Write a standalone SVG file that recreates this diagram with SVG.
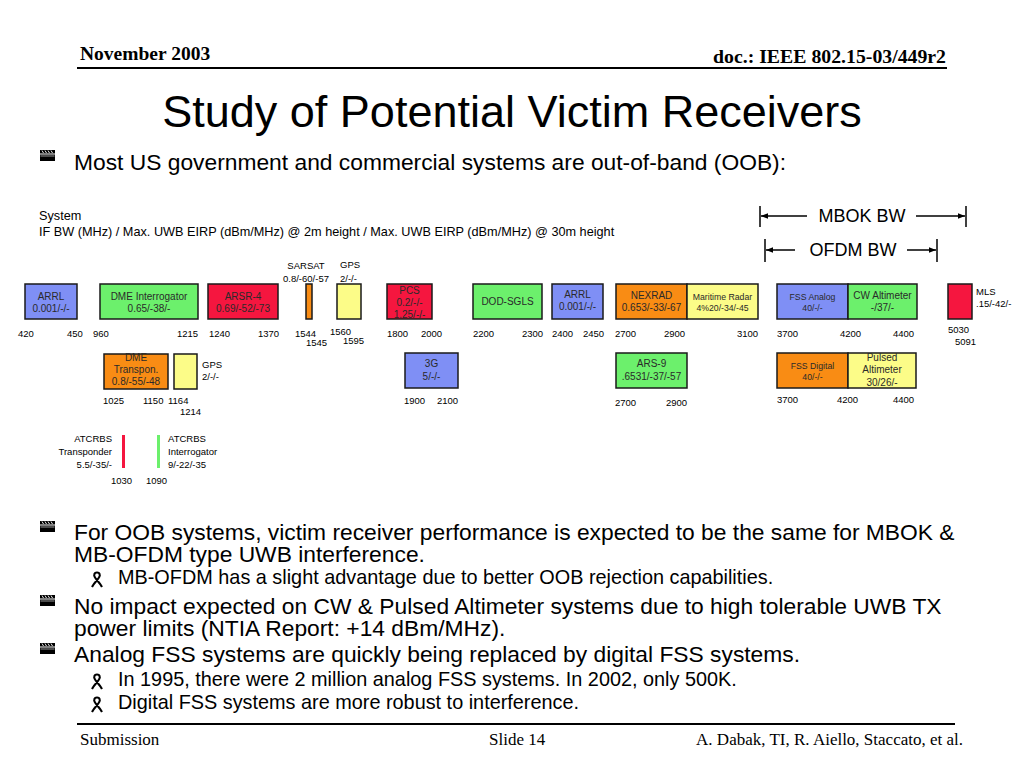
<svg xmlns="http://www.w3.org/2000/svg" width="1024" height="768" viewBox="0 0 1024 768">
<defs>
<style>
.hdr{font-family:"Liberation Serif","Times New Roman",serif;font-weight:bold;fill:#000}
.ftr{font-family:"Liberation Serif","Times New Roman",serif;font-size:17px;fill:#000}
.sans{font-family:"Liberation Sans",Arial,sans-serif;fill:#000}
.title{font-size:45px}
.b1{font-size:22.8px}
.b2{font-size:19.85px}
.sm{font-size:12.7px}
.bx{font-size:10px;fill:#2a2a2a;text-anchor:middle}
.bxs{font-size:8.7px;fill:#2a2a2a;text-anchor:middle}
.num{font-size:9.5px}
.lbl{font-size:9.5px}
.bw{font-size:18px}
.box{stroke:#1a1a1a;stroke-width:1.5}
.blue{fill:#7f8ff5}
.green{fill:#6cf06c}
.red{fill:#f5163f}
.orange{fill:#f98c14}
.yellow{fill:#fcfc88}
.conn{stroke:#000;stroke-width:1.5;fill:none}
</style>
<marker id="ah" viewBox="0 0 10 10" refX="10" refY="5" markerWidth="7" markerHeight="7" orient="auto-start-reverse" markerUnits="userSpaceOnUse">
<path d="M0,1 L10,5 L0,9 z" fill="#000"/>
</marker>
<g id="clap">
<rect x="0" y="0" width="15" height="3.5" fill="#000"/>
<path d="M2,0.5 L3.5,3 M5,0.5 L6.5,3 M8,0.5 L9.5,3 M11,0.5 L12.5,3" stroke="#fff" stroke-width="0.9"/>
<rect x="0" y="4.5" width="15" height="6.5" fill="#000"/>
<line x1="0.5" y1="6" x2="14.5" y2="6" stroke="#fff" stroke-width="0.6"/>
</g>
<path id="ribbon" d="M0,15 C3,9 8.5,6 7.8,2.8 C7.2,-0.3 2.8,-0.3 2.2,2.8 C1.5,6 7,9 10,15" stroke="#000" stroke-width="2.1" fill="none"/>
</defs>
<rect width="1024" height="768" fill="#fff"/>

<g id="header">
<text class="hdr" x="80" y="60" font-size="19.5">November 2003</text>
<text class="hdr" x="946" y="63" font-size="19.8" text-anchor="end">doc.: IEEE 802.15-03/449r2</text>
<line x1="77" y1="68" x2="947" y2="68" stroke="#000" stroke-width="2"/>
</g>

<text class="sans title" x="512" y="127" text-anchor="middle">Study of Potential Victim Receivers</text>

<g id="bullet1">
<use href="#clap" x="40" y="150"/>
<text class="sans b1" x="74" y="170">Most US government and commercial systems are out-of-band (OOB):</text>
</g>

<g id="legend">
<text class="sans sm" x="39" y="220">System</text>
<text class="sans sm" x="39" y="236">IF BW (MHz) / Max. UWB EIRP (dBm/MHz) @ 2m height / Max. UWB EIRP (dBm/MHz) @ 30m height</text>
</g>

<g id="connectors">
<line class="conn" x1="760" y1="206" x2="760" y2="227"/>
<line class="conn" x1="807" y1="216" x2="761" y2="216" marker-end="url(#ah)"/>
<line class="conn" x1="916" y1="216" x2="965" y2="216" marker-end="url(#ah)"/>
<line class="conn" x1="966" y1="206" x2="966" y2="227"/>
<line class="conn" x1="765" y1="239" x2="765" y2="262"/>
<line class="conn" x1="795" y1="250" x2="766" y2="250" marker-end="url(#ah)"/>
<line class="conn" x1="907" y1="250" x2="936" y2="250" marker-end="url(#ah)"/>
<line class="conn" x1="937" y1="239" x2="937" y2="262"/>
</g>
<g id="bw-labels">
<text class="sans bw" x="862" y="222" text-anchor="middle">MBOK BW</text>
<text class="sans bw" x="853" y="256" text-anchor="middle">OFDM BW</text>
</g>

<g id="arrl1"><rect class="box blue" x="25" y="284" width="52" height="35"/><text class="sans bx" x="51" y="300">ARRL</text><text class="sans bx" x="51" y="312">0.001/-/-</text></g>
<g id="dme-int"><rect class="box green" x="100" y="284" width="98" height="35"/><text class="sans bx" x="149" y="300">DME Interrogator</text><text class="sans bx" x="149" y="312">0.65/-38/-</text></g>
<g id="arsr4"><rect class="box red" x="208" y="284" width="70" height="35"/><text class="sans bx" x="243" y="300">ARSR-4</text><text class="sans bx" x="243" y="312">0.69/-52/-73</text></g>
<g id="sarsat"><rect class="box orange" x="306" y="284" width="6" height="35"/><text class="sans lbl" x="306" y="269" text-anchor="middle">SARSAT</text><text class="sans lbl" x="306" y="282" text-anchor="middle">0.8/-60/-57</text></g>
<g id="gps1"><rect class="box yellow" x="337" y="284" width="24" height="35"/><text class="sans lbl" x="340" y="268">GPS</text><text class="sans lbl" x="340" y="282">2/-/-</text></g>
<g id="pcs"><rect class="box red" x="387" y="284" width="45" height="35"/><text class="sans bx" x="409.5" y="294">PCS</text><text class="sans bx" x="409.5" y="306">0.2/-/-</text><text class="sans bx" x="409.5" y="318">1.25/-/-</text></g>
<g id="dod-sgls"><rect class="box green" x="473" y="284" width="69" height="35"/><text class="sans bx" x="507.5" y="305">DOD-SGLS</text></g>
<g id="arrl2"><rect class="box blue" x="552" y="284" width="51" height="35"/><text class="sans bx" x="577.5" y="298">ARRL</text><text class="sans bx" x="577.5" y="310">0.001/-/-</text></g>
<g id="nexrad"><rect class="box orange" x="616" y="284" width="71" height="35"/><text class="sans bx" x="651.5" y="299">NEXRAD</text><text class="sans bx" x="651.5" y="311">0.653/-33/-67</text></g>
<g id="maritime"><rect class="box yellow" x="687" y="284" width="71" height="35"/><text class="sans bxs" x="722.5" y="300">Maritime Radar</text><text class="sans bxs" x="722.5" y="311">4%20/-34/-45</text></g>
<g id="fss-analog"><rect class="box blue" x="777" y="284" width="71" height="35"/><text class="sans bxs" x="812.5" y="300">FSS Analog</text><text class="sans bxs" x="812.5" y="311">40/-/-</text></g>
<g id="cw-alt"><rect class="box green" x="848" y="284" width="69" height="35"/><text class="sans bx" x="882.5" y="299">CW Altimeter</text><text class="sans bx" x="882.5" y="311">-/37/-</text></g>
<g id="mls"><rect class="box red" x="948" y="284" width="24" height="35"/><text class="sans lbl" x="976" y="295">MLS</text><text class="sans lbl" x="976" y="307">.15/-42/-</text></g>

<g id="freq-row1" class="sans num">
<text x="18" y="337">420</text><text x="67" y="337">450</text><text x="93" y="337">960</text>
<text x="177" y="337">1215</text><text x="209" y="337">1240</text><text x="258" y="337">1370</text>
<text x="295" y="337">1544</text><text x="306" y="346">1545</text>
<text x="330" y="335">1560</text><text x="343" y="344">1595</text>
<text x="387" y="337">1800</text><text x="421" y="337">2000</text>
<text x="473" y="337">2200</text><text x="522" y="337">2300</text>
<text x="552" y="337">2400</text><text x="583" y="337">2450</text>
<text x="615" y="337">2700</text><text x="664" y="337">2900</text><text x="737" y="337">3100</text>
<text x="777" y="337">3700</text><text x="840" y="337">4200</text><text x="893" y="337">4400</text>
<text x="948" y="333">5030</text><text x="955" y="345">5091</text>
</g>

<g id="dme-trans"><rect class="box orange" x="104" y="354" width="64" height="35"/><text class="sans bx" x="136" y="361">DME</text><text class="sans bx" x="136" y="373">Transpon.</text><text class="sans bx" x="136" y="385">0.8/-55/-48</text></g>
<g id="gps2"><rect class="box yellow" x="174" y="354" width="23" height="35"/><text class="sans lbl" x="202" y="368">GPS</text><text class="sans lbl" x="202" y="380">2/-/-</text></g>
<g id="g3"><rect class="box blue" x="405" y="353" width="53" height="35"/><text class="sans bx" x="431.5" y="367">3G</text><text class="sans bx" x="431.5" y="380">5/-/-</text></g>
<g id="ars9"><rect class="box green" x="616" y="353" width="71" height="35"/><text class="sans bx" x="651.5" y="367">ARS-9</text><text class="sans bx" x="651.5" y="380">.6531/-37/-57</text></g>
<g id="fss-digital"><rect class="box orange" x="777" y="353" width="71" height="35"/><text class="sans bxs" x="812.5" y="369">FSS Digital</text><text class="sans bxs" x="812.5" y="380">40/-/-</text></g>
<g id="pulsed-alt"><rect class="box yellow" x="848" y="353" width="68" height="35"/><text class="sans bx" x="882" y="361">Pulsed</text><text class="sans bx" x="882" y="373">Altimeter</text><text class="sans bx" x="882" y="386">30/26/-</text></g>

<g id="freq-row2" class="sans num">
<text x="103" y="404">1025</text><text x="143" y="404">1150</text><text x="168" y="404">1164</text><text x="180" y="415">1214</text>
<text x="404" y="404">1900</text><text x="437" y="404">2100</text>
<text x="615" y="406">2700</text><text x="666" y="406">2900</text>
<text x="777" y="403">3700</text><text x="837" y="403">4200</text><text x="893" y="403">4400</text>
</g>

<g id="atcrbs-trans"><rect x="122" y="435" width="3" height="33" fill="#f5163f"/>
<text class="sans lbl" x="112" y="442" text-anchor="end">ATCRBS</text><text class="sans lbl" x="112" y="455" text-anchor="end">Transponder</text><text class="sans lbl" x="112" y="468" text-anchor="end">5.5/-35/-</text></g>
<g id="atcrbs-int"><rect x="157" y="435" width="3" height="33" fill="#6cf06c"/>
<text class="sans lbl" x="168" y="442">ATCRBS</text><text class="sans lbl" x="168" y="455">Interrogator</text><text class="sans lbl" x="168" y="468">9/-22/-35</text></g>
<g id="freq-row3" class="sans num"><text x="111" y="484">1030</text><text x="146" y="484">1090</text></g>

<g id="bullets">
<use href="#clap" x="40" y="521"/>
<text class="sans b1" x="74" y="540">For OOB systems, victim receiver performance is expected to be the same for MBOK &amp;</text>
<text class="sans b1" x="74" y="562">MB-OFDM type UWB interference.</text>
<use href="#ribbon" x="92" y="572"/>
<text class="sans b2" x="118" y="584">MB-OFDM has a slight advantage due to better OOB rejection capabilities.</text>
<use href="#clap" x="40" y="595"/>
<text class="sans b1" x="74" y="614">No impact expected on CW &amp; Pulsed Altimeter systems due to high tolerable UWB TX</text>
<text class="sans b1" x="74" y="636">power limits (NTIA Report: +14 dBm/MHz).</text>
<use href="#clap" x="40" y="643"/>
<text class="sans b1" x="74" y="662">Analog FSS systems are quickly being replaced by digital FSS systems.</text>
<use href="#ribbon" x="92" y="674"/>
<text class="sans b2" x="118" y="686">In 1995, there were 2 million analog FSS systems. In 2002, only 500K.</text>
<use href="#ribbon" x="92" y="697"/>
<text class="sans b2" x="118" y="709">Digital FSS systems are more robust to interference.</text>
</g>

<g id="footer">
<line x1="77" y1="724" x2="955" y2="724" stroke="#000" stroke-width="2"/>
<text class="ftr" x="80" y="745">Submission</text>
<text class="ftr" x="489" y="745">Slide 14</text>
<text class="ftr" x="963" y="745" text-anchor="end">A. Dabak, TI, R. Aiello, Staccato, et al.</text>
</g>
</svg>
